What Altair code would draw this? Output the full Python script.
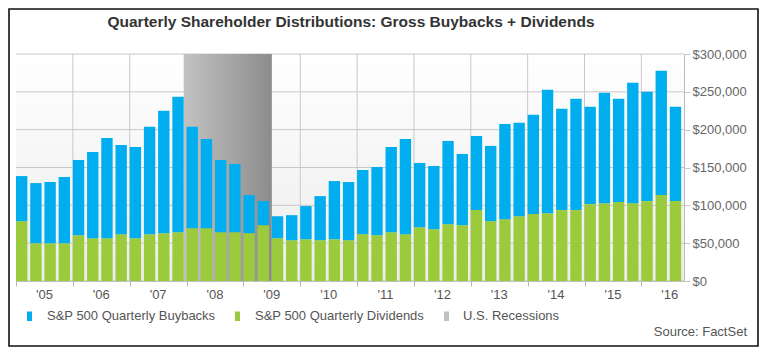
import altair as alt
import pandas as pd

W, H = 668, 227
FONT = "Liberation Sans"

quarters = [f"Q{q} {y}" for y in range(2005, 2017) for q in range(1, 5)][:47]

# S&P 500 quarterly dividends ($ millions)
dividends = [79100, 49900, 49900, 49900, 60500, 56600, 56600, 61900,
             56600, 61900, 63200, 64500, 69800, 69800, 64500, 64500,
             63200, 73800, 56600, 53900, 55200, 53900, 55200, 53900,
             61900, 60500, 64500, 61900, 71100, 68500, 75100, 73800,
             93700, 79100, 81700, 85700, 88400, 89700, 93700, 93700,
             101600, 102900, 104300, 102900, 105600, 113500, 105600]

# S&P 500 quarterly gross buybacks ($ millions)
buybacks = [59600, 79500, 80900, 87500, 99400, 113900, 132500, 117900,
            120600, 141800, 161700, 178900, 133900, 118000, 95400, 90100,
            50300, 31800, 29100, 33100, 43800, 58300, 76900, 76900,
            84800, 90200, 112700, 125900, 84900, 83500, 110000, 94100,
            98000, 99400, 125900, 123300, 131200, 163000, 133800, 147100,
            128600, 145800, 136500, 159100, 144500, 164400, 124600]

year_labels = ["'05", "'06", "'07", "'08", "'09", "'10",
               "'11", "'12", "'13", "'14", "'15", "'16"]
y_ticks = [0, 50000, 100000, 150000, 200000, 250000, 300000]
recession = ("Q1 2008", "Q2 2009")

legend_labels = ["S&P 500 Quarterly Buybacks", "S&P 500 Quarterly Dividends", "U.S. Recessions"]
BLUE, GREEN, GRAY = "#00AEEF", "#9BCA3C", "#C0C0C0"

title_text = "Quarterly Shareholder Distributions: Gross Buybacks + Dividends"
source_text = "Source: FactSet"

GAP = 0.2
df = pd.DataFrame({"quarter": quarters, "buybacks": buybacks, "dividends": dividends})
df["i"] = range(len(df))
df["i2"] = df["i"] + 1 - GAP
df["zero"] = 0
df["total"] = df["dividends"] + df["buybacks"]

n = len(quarters)
xscale = alt.Scale(domain=[0, n], nice=False, zero=False)
yscale = alt.Scale(domain=[0, 300000], nice=False)

bounds = list(range(0, n, 4))
years_df = pd.DataFrame({"label": year_labels, "pos": [k * 4 + 2 for k in range(len(year_labels))]})
rs = quarters.index(recession[0]) - GAP
re_ = quarters.index(recession[1]) + 1
rec_df = pd.DataFrame({"s": [rs], "e": [re_]})
one = pd.DataFrame({"a": [0]})

bg_grad = alt.LinearGradient(gradient="linear",
                             stops=[alt.GradientStop(color="#ffffff", offset=0),
                                    alt.GradientStop(color="#ececec", offset=1)],
                             x1=0, x2=0, y1=0, y2=1)
rec_grad = alt.LinearGradient(gradient="linear",
                              stops=[alt.GradientStop(color="#c2c2c2", offset=0),
                                     alt.GradientStop(color="#8c8c8c", offset=1)],
                              x1=0, x2=1, y1=0, y2=0)

xaxis = alt.Axis(values=bounds, labels=False, grid=False, domain=False, ticks=True,
                 tickSize=5, tickColor="#b5b5b5", title=None)
yaxis = alt.Axis(orient="right", values=y_ticks, format="$,.0f", grid=False, domain=False,
                 tickSize=6, tickColor="#c8c8c8", labelPadding=2, title=None,
                 labelFont=FONT, labelFontSize=13, labelColor="#666666")

bg = alt.Chart(one).mark_rect(color=bg_grad).encode(
    x=alt.value(0), x2=alt.value(W), y=alt.value(0), y2=alt.value(H))

hgrid = alt.Chart(pd.DataFrame({"v": y_ticks})).mark_rule(color="#c8c8c8", strokeWidth=1).encode(
    y=alt.Y("v:Q", scale=yscale, axis=yaxis))

vgrid = alt.Chart(pd.DataFrame({"b": bounds[1:]})).mark_rule(color="#c8c8c8", strokeWidth=1).encode(
    x=alt.X("b:Q", scale=xscale, axis=xaxis))

rec = alt.Chart(rec_df).mark_rect(color=rec_grad).encode(
    x=alt.X("s:Q", scale=xscale, axis=xaxis), x2="e:Q",
    y=alt.value(0), y2=alt.value(H))

div_bars = alt.Chart(df).mark_rect(color=GREEN).encode(
    x=alt.X("i:Q", scale=xscale, axis=xaxis), x2="i2:Q",
    y=alt.Y("zero:Q", scale=yscale, axis=yaxis), y2="dividends:Q")

buy_bars = alt.Chart(df).mark_rect(color=BLUE).encode(
    x=alt.X("i:Q", scale=xscale, axis=xaxis), x2="i2:Q",
    y=alt.Y("dividends:Q", scale=yscale, axis=yaxis), y2="total:Q")

years = alt.Chart(years_df).mark_text(font=FONT, fontSize=13, color="#555555", baseline="middle").encode(
    x=alt.X("pos:Q", scale=xscale, axis=xaxis), y=alt.value(241), text="label:N")

title = alt.Chart(one).mark_text(text=title_text, font=FONT, fontSize=15.5, fontWeight="bold",
                                 color="#333333", baseline="middle").encode(
    x=alt.value(W / 2 + 1), y=alt.value(-32))

source = alt.Chart(one).mark_text(text=source_text, font=FONT, fontSize=13, color="#555555",
                                  align="right", baseline="middle").encode(
    x=alt.value(731), y=alt.value(278))

legend_layers = []
for lx, tx, col, lab in [(11, 31, BLUE, legend_labels[0]),
                         (219, 239, GREEN, legend_labels[1]),
                         (428, 447, GRAY, legend_labels[2])]:
    legend_layers.append(alt.Chart(one).mark_rect(color=col).encode(
        x=alt.value(lx), x2=alt.value(lx + 5), y=alt.value(257.5), y2=alt.value(267)))
    legend_layers.append(alt.Chart(one).mark_text(text=lab, font=FONT, fontSize=13, color="#555555",
                                                  align="left", baseline="middle").encode(
        x=alt.value(tx), y=alt.value(262)))

frame = alt.Chart(one).mark_rect(fill="#ffffff", fillOpacity=0, stroke="#111111", strokeWidth=1.6).encode(
    x=alt.value(-7), x2=alt.value(742), y=alt.value(-45), y2=alt.value(292))

chart = alt.layer(bg, hgrid, vgrid, rec, div_bars, buy_bars, years, title, source,
                  *legend_layers, frame).properties(
    width=W, height=H,
    autosize=alt.AutoSizeParams(type="none"),
    padding={"left": 8, "top": 46, "right": 75, "bottom": 68},
    background="#ffffff",
).configure_view(stroke="#bbbbbb")

chart.save("out.html", embed_options={"renderer": "svg", "actions": False})
